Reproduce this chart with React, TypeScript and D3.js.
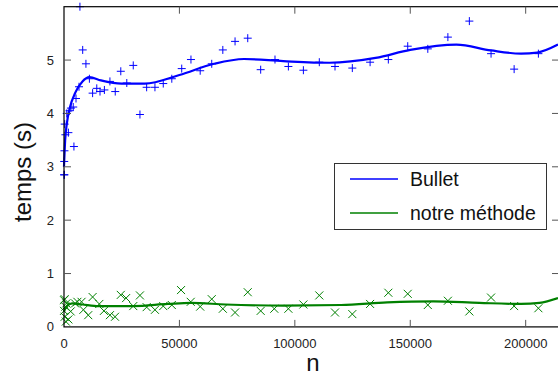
import React from "react";
import * as d3 from "d3";

const nBullet = [0, 200, 100, 200, 300, 600, 1200, 1900, 2400, 3000, 4000, 4300, 5200, 6500, 6900, 8100, 9500, 11000, 12400, 14200, 15600, 17500, 19900, 22200, 24600, 27200, 30000, 32900, 35800, 39400, 43000, 46700, 51000, 55000, 59000, 64000, 68800, 74100, 79600, 85200, 91400, 97200, 103700, 110600, 117400, 124900, 132600, 140500, 148900, 157600, 166300, 175600, 185000, 195000, 205500];
const tBullet = [2.85, 2.85, 3.1, 3.3, 3.8, 3.6, 4.0, 3.64, 4.05, 4.1, 4.12, 3.38, 4.28, 4.5, 6.0, 5.19, 4.93, 4.65, 4.38, 4.47, 4.41, 4.44, 4.6, 4.41, 4.79, 4.57, 4.9, 3.98, 4.49, 4.49, 4.56, 4.65, 4.84, 5.01, 4.8, 4.93, 5.19, 5.35, 5.41, 4.82, 5.01, 4.88, 4.81, 4.96, 4.88, 4.85, 4.96, 5.01, 5.26, 5.21, 5.43, 5.73, 5.12, 4.83, 5.12];

const nOurs = [0, 300, 1000, 600, 0, 300, 1900, 800, 2900, 4800, 5800, 7600, 8400, 10500, 12400, 15300, 17300, 19900, 22100, 24600, 26900, 30000, 32900, 35800, 39400, 43000, 46700, 50700, 54900, 59000, 64000, 68800, 74100, 79600, 85200, 91100, 97200, 103700, 110600, 117400, 124900, 132600, 140500, 148900, 157600, 166300, 175600, 185000, 195000, 205500];
const tOurs = [0.5, 0.52, 0.44, 0.38, 0.3, 0.19, 0.14, 0.1, 0.29, 0.44, 0.47, 0.47, 0.32, 0.22, 0.56, 0.43, 0.3, 0.22, 0.19, 0.6, 0.54, 0.39, 0.59, 0.37, 0.32, 0.39, 0.41, 0.69, 0.47, 0.38, 0.52, 0.34, 0.27, 0.65, 0.3, 0.34, 0.34, 0.42, 0.59, 0.27, 0.24, 0.43, 0.64, 0.62, 0.41, 0.49, 0.29, 0.55, 0.39, 0.35];

const fitBulletN = [0, 500, 1200, 2500, 5000, 8000, 11000, 16000, 25000, 35000, 50000, 65000, 78000, 95000, 115000, 135000, 150000, 170000, 185000, 198000, 205000, 214000];
const fitBulletT = [3.0, 3.5, 3.8, 4.1, 4.4, 4.6, 4.68, 4.62, 4.56, 4.56, 4.72, 4.93, 5.02, 4.98, 4.95, 5.04, 5.19, 5.29, 5.18, 5.12, 5.14, 5.29];

const fitOursN = [0, 1000, 3500, 8000, 15000, 30000, 45000, 55000, 70000, 95000, 120000, 140000, 160000, 180000, 198000, 206000, 214000];
const fitOursT = [0.28, 0.38, 0.44, 0.42, 0.39, 0.39, 0.43, 0.45, 0.42, 0.4, 0.41, 0.46, 0.48, 0.45, 0.43, 0.45, 0.54];

const xTicks = [0, 50000, 100000, 150000, 200000];
const yTicks = [0, 1, 2, 3, 4, 5];
const seriesNames = ["Bullet", "notre méthode"];
const seriesColors = ["#0000ff", "#008000"];

export default function App() {
  const W = 558, H = 375;
  const left = 64, right = 559, top = 6.7, bottom = 326.9;
  const x = d3.scaleLinear().domain([0, 214000]).range([left, right - 1]);
  const y = d3.scaleLinear().domain([0, 6]).range([bottom, top]);
  const font = "Liberation Sans, Arial, sans-serif";

  const lineGen = d3.line<[number, number]>().x(d => x(d[0])).y(d => y(d[1])).curve(d3.curveMonotoneX);
  const bulletPath = lineGen(fitBulletN.map((n, i) => [n, fitBulletT[i]] as [number, number])) || "";
  const oursPath = lineGen(fitOursN.map((n, i) => [n, fitOursT[i]] as [number, number])) || "";

  const tickLen = 7;
  const tickColor = "#555";

  return (
    <svg width={W} height={H} style={{ position: "absolute", left: 0, top: 0 }} fontFamily={font}>
      <rect x={0} y={0} width={W} height={H} fill="#fff" />
      <path d={bulletPath} fill="none" stroke={seriesColors[0]} strokeWidth={2.2} />
      <path d={oursPath} fill="none" stroke={seriesColors[1]} strokeWidth={2.2} />
      {nBullet.map((n, i) => {
        const cx = x(n), cy = y(tBullet[i]);
        return (
          <path key={"b" + i} d={`M${cx - 4},${cy}H${cx + 4}M${cx},${cy - 4}V${cy + 4}`} stroke={seriesColors[0]} strokeWidth={1} fill="none" />
        );
      })}
      {nOurs.map((n, i) => {
        const cx = x(n), cy = y(tOurs[i]);
        return (
          <path key={"o" + i} d={`M${cx - 4},${cy - 4}L${cx + 4},${cy + 4}M${cx - 4},${cy + 4}L${cx + 4},${cy - 4}`} stroke={seriesColors[1]} strokeWidth={1} fill="none" />
        );
      })}
      <rect x={left} y={top} width={right - left} height={bottom - top} fill="none" stroke="#000" strokeWidth={1.2} />
      {xTicks.map(t => (
        <g key={"xt" + t}>
          {t !== 0 && <line x1={x(t)} x2={x(t)} y1={bottom} y2={bottom - tickLen} stroke={tickColor} />}
          {t !== 0 && <line x1={x(t)} x2={x(t)} y1={top} y2={top + tickLen} stroke={tickColor} />}
          <text x={x(t)} y={347.5} textAnchor="middle" fontSize={13} fill="#222">{t}</text>
        </g>
      ))}
      {yTicks.map(t => (
        <g key={"yt" + t}>
          {t !== 0 && <line x1={left} x2={left + tickLen} y1={y(t)} y2={y(t)} stroke={tickColor} />}
          {t !== 0 && <line x1={right} x2={right - tickLen} y1={y(t)} y2={y(t)} stroke={tickColor} />}
          <text x={54} y={y(t) + 4.5} textAnchor="end" fontSize={13} fill="#222">{t}</text>
        </g>
      ))}
      <text x={313} y={371} textAnchor="middle" fontSize={24} fill="#111">n</text>
      <text transform={`translate(31,172) rotate(-90)`} textAnchor="middle" fontSize={24} fill="#111">temps (s)</text>
      <rect x={334.5} y={163.5} width={212} height={66} fill="#fff" stroke="#333" strokeWidth={1} />
      {seriesNames.map((name, i) => (
        <g key={name}>
          <line x1={350} x2={398} y1={179 + i * 34} y2={179 + i * 34} stroke={seriesColors[i]} strokeWidth={1.5} />
          <text x={410} y={186 + i * 34} fontSize={19.5} fill="#111">{name}</text>
        </g>
      ))}
    </svg>
  );
}
